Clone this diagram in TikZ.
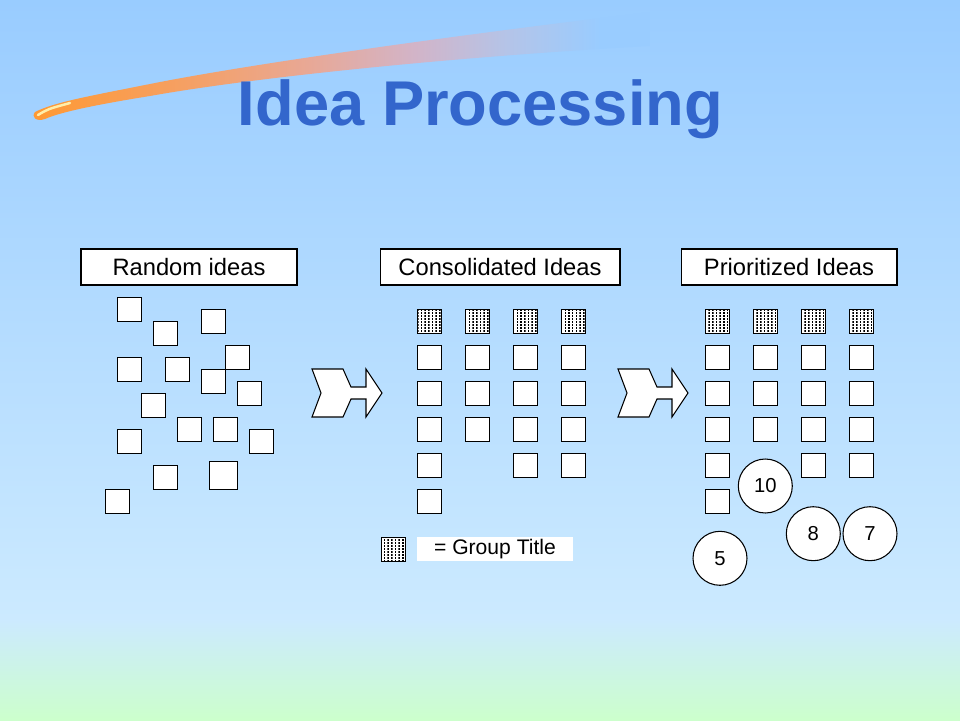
\documentclass[tikz,border=0pt]{standalone}
\usepackage{fontspec}
\setmainfont{Liberation Sans}
\usetikzlibrary{patterns}
\definecolor{bg_top}{RGB}{153, 204, 255}
\definecolor{bg_mid}{RGB}{204, 234, 255}
\definecolor{bg_low}{RGB}{204, 255, 204}
\definecolor{title_blue}{RGB}{51, 102, 204}
\definecolor{sw_orange}{RGB}{255, 153, 51}
\definecolor{sw_peach}{RGB}{245, 160, 100}
\definecolor{sw_rose}{RGB}{232, 168, 150}
\definecolor{sw_pink}{RGB}{210, 180, 200}
\definecolor{sw_lilac}{RGB}{180, 196, 232}
\definecolor{sw_tip}{RGB}{255, 238, 170}
\pgfdeclarehorizontalshading{swoosh}{100bp}{color(0bp)=(sw_orange); color(25bp)=(sw_orange);
  color(37.5bp)=(sw_peach); color(47.5bp)=(sw_rose); color(56bp)=(sw_pink); color(63.5bp)=(sw_lilac);
  color(71bp)=(bg_top); color(100bp)=(bg_top)}
\pgfdeclarepatternformonly{fine dots}{\pgfqpoint{0pt}{0pt}}{\pgfqpoint{0.9pt}{0.9pt}}
  {\pgfqpoint{2.1pt}{1.7pt}}{\pgfpathrectangle{\pgfqpoint{0pt}{0pt}}{\pgfqpoint{0.9pt}{0.9pt}}\pgfusepath{fill}}
\tikzstyle{bx}=[rectangle,fill=white,draw=black,line width=0.6pt,
  inner sep=0pt,minimum size=0.48cm]
\tikzstyle{gt}=[bx,postaction={pattern=fine dots}]
\tikzstyle{lb}=[rectangle,fill=white,draw=black,line width=0.6pt,
  minimum height=0.72cm,font=\fontsize{13.5}{16}\selectfont]
\tikzstyle{cn}=[circle,fill=white,draw=black,line width=0.6pt,
  inner sep=0pt,minimum size=1.08cm,font=\fontsize{11.5}{14}\selectfont]
\tikzstyle{chev}=[fill=white,draw=black,line width=0.6pt,line join=miter]

\begin{document}
\begin{tikzpicture}[x=0.02cm,y=-0.02cm]
    % background
    \useasboundingbox (0,0) rectangle (960,720);
    \fill[top color=bg_top,bottom color=bg_mid] (0,0) rectangle (960,620);
    \fill[top color=bg_mid,bottom color=bg_low] (0,620) rectangle (960,720);
    \shade[shading=swoosh] (35,112) .. controls (55,102) and (90,96) .. (150,84)
      .. controls (250,64) and (450,36) .. (650,12) -- (650,46)
      .. controls (450,57) and (250,78) .. (150,96)
      .. controls (100,104) and (60,112) .. (45,119)
      .. controls (36,122) and (31,117) .. (35,112) -- cycle;
    \draw[sw_tip,line width=1.4pt,line cap=round] (38,115) .. controls (48,109) .. (70,103);
    \node [text=title_blue,font=\fontsize{36}{40}\selectfont\bfseries,anchor=base] (title) at (480.5,125) {Idea Processing};

    % headers
    \node [style=lb,minimum width=4.32cm] (h1) at (189,267) {Random ideas};
    \node [style=lb,minimum width=4.8cm] (h2) at (500,267) {Consolidated Ideas};
    \node [style=lb,minimum width=4.32cm] (h3) at (789,267) {Prioritized Ideas};

    % random ideas
    \node [style=bx] (0) at (129.5,309.3) {};
    \node [style=bx] (1) at (165.5,333.3) {};
    \node [style=bx] (2) at (213.3,321.3) {};
    \node [style=bx] (3) at (237.3,357.3) {};
    \node [style=bx] (4) at (129.5,369.3) {};
    \node [style=bx] (5) at (177.3,369.3) {};
    \node [style=bx] (6) at (213.3,381.3) {};
    \node [style=bx] (7) at (249.3,393.3) {};
    \node [style=bx] (8) at (153.3,405.3) {};
    \node [style=bx] (9) at (189.3,429.3) {};
    \node [style=bx] (10) at (225.3,429.3) {};
    \node [style=bx] (11) at (261.3,441.3) {};
    \node [style=bx] (12) at (129.5,441.3) {};
    \node [style=bx] (13) at (165.3,477.3) {};
    \node [style=bx,minimum size=0.56cm] (14) at (223.3,475.7) {};
    \node [style=bx] (15) at (117.3,501.3) {};

    % arrows
    \draw [style=chev] (312,369) -- (343,369) -- (351,387) -- (366,387) -- (366,369) -- (382,393)
      -- (366,417) -- (366,399) -- (351,399) -- (343,417) -- (312,417) -- (321,393) -- cycle;
    \draw [style=chev,shift={(306,0)}] (312,369) -- (343,369) -- (351,387) -- (366,387) -- (366,369) -- (382,393)
      -- (366,417) -- (366,399) -- (351,399) -- (343,417) -- (312,417) -- (321,393) -- cycle;

    % consolidated ideas
    \node [style=gt] (c10) at (429.3,321.3) {};
    \node [style=bx] (c11) at (429.3,357.3) {};
    \node [style=bx] (c12) at (429.3,393.3) {};
    \node [style=bx] (c13) at (429.3,429.3) {};
    \node [style=bx] (c14) at (429.3,465.3) {};
    \node [style=bx] (c15) at (429.3,501.3) {};
    \node [style=gt] (c20) at (477.3,321.3) {};
    \node [style=bx] (c21) at (477.3,357.3) {};
    \node [style=bx] (c22) at (477.3,393.3) {};
    \node [style=bx] (c23) at (477.3,429.3) {};
    \node [style=gt] (c30) at (525.3,321.3) {};
    \node [style=bx] (c31) at (525.3,357.3) {};
    \node [style=bx] (c32) at (525.3,393.3) {};
    \node [style=bx] (c33) at (525.3,429.3) {};
    \node [style=bx] (c34) at (525.3,465.3) {};
    \node [style=gt] (c40) at (573.3,321.3) {};
    \node [style=bx] (c41) at (573.3,357.3) {};
    \node [style=bx] (c42) at (573.3,393.3) {};
    \node [style=bx] (c43) at (573.3,429.3) {};
    \node [style=bx] (c44) at (573.3,465.3) {};

    % legend
    \node [style=gt] (key) at (393.3,549.3) {};
    \node [fill=white,minimum width=3.11cm,minimum height=0.47cm,inner sep=0pt,
      font=\fontsize{12}{14}\selectfont] (keytext) at (495,549) {= Group Title};

    % prioritized ideas
    \node [style=gt] (p10) at (717.3,321.3) {};
    \node [style=bx] (p11) at (717.3,357.3) {};
    \node [style=bx] (p12) at (717.3,393.3) {};
    \node [style=bx] (p13) at (717.3,429.3) {};
    \node [style=bx] (p14) at (717.3,465.3) {};
    \node [style=bx] (p15) at (717.3,501.3) {};
    \node [style=gt] (p20) at (765.3,321.3) {};
    \node [style=bx] (p21) at (765.3,357.3) {};
    \node [style=bx] (p22) at (765.3,393.3) {};
    \node [style=bx] (p23) at (765.3,429.3) {};
    \node [style=gt] (p30) at (813.3,321.3) {};
    \node [style=bx] (p31) at (813.3,357.3) {};
    \node [style=bx] (p32) at (813.3,393.3) {};
    \node [style=bx] (p33) at (813.3,429.3) {};
    \node [style=bx] (p34) at (813.3,465.3) {};
    \node [style=gt] (p40) at (861.3,321.3) {};
    \node [style=bx] (p41) at (861.3,357.3) {};
    \node [style=bx] (p42) at (861.3,393.3) {};
    \node [style=bx] (p43) at (861.3,429.3) {};
    \node [style=bx] (p44) at (861.3,465.3) {};

    % votes
    \node [style=cn] (v10) at (765.3,486) {10};
    \node [style=cn] (v8) at (813.3,533.7) {8};
    \node [style=cn] (v7) at (870,533.7) {7};
    \node [style=cn] (v5) at (720,558.3) {5};
  \end{tikzpicture}
\end{document}
